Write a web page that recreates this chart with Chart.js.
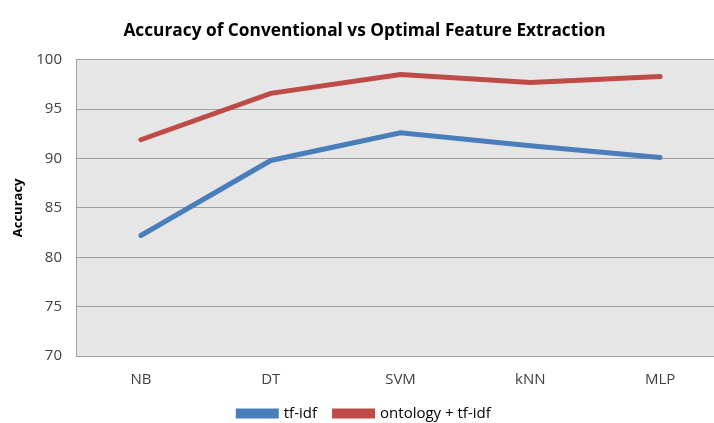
<!DOCTYPE html>
<html>
<head>
<meta charset="utf-8">
<script src="https://cdn.jsdelivr.net/npm/chart.js@4.4.0/dist/chart.umd.min.js"></script>
<style>
  html, body { margin: 0; padding: 0; background: #fff; overflow: hidden; }
  #wrap { width: 714px; height: 423px; overflow: hidden; }
</style>
</head>
<body>
<div id="wrap"><canvas id="chartCanvas" width="725" height="423"></canvas></div>
<script>
// Données du graphique
const categories = ['NB', 'DT', 'SVM', 'kNN', 'MLP'];
const tfIdf = [82.2, 89.8, 92.6, 91.3, 90.1];
const ontologyTfIdf = [91.9, 96.6, 98.5, 97.7, 98.3];
const yTicks = [70, 75, 80, 85, 90, 95, 100];

// Fond gris de la zone de tracé
const plotBackground = {
    id: 'plotBackground',
    beforeDraw(chart) {
        const { ctx, chartArea } = chart;
        ctx.save();
        ctx.fillStyle = '#e6e6e6';
        ctx.fillRect(chartArea.left, chartArea.top, chartArea.right - chartArea.left, chartArea.bottom - chartArea.top);
        ctx.restore();
    }
};

const font = "'Open Sans', 'Liberation Sans', sans-serif";

const ctx = document.getElementById('chartCanvas').getContext('2d');
new Chart(ctx, {
    type: 'line',
    data: {
        labels: categories,
        datasets: [{
            label: 'tf-idf',
            data: tfIdf,
            borderColor: '#4a7ebb',
            backgroundColor: '#4a7ebb',
            borderWidth: 5,
            pointRadius: 0,
            tension: 0,
            borderCapStyle: 'round'
        }, {
            label: 'ontology + tf-idf',
            data: ontologyTfIdf,
            borderColor: '#be4b48',
            backgroundColor: '#be4b48',
            borderWidth: 5,
            pointRadius: 0,
            tension: 0,
            borderCapStyle: 'round'
        }]
    },
    options: {
        responsive: false,
        animation: false,
        layout: { padding: { left: 4, right: 0, top: 21, bottom: -8 } },
        scales: {
            x: {
                offset: true,
                grid: { display: false, drawTicks: false },
                border: { display: true, color: '#a0a0a0' },
                ticks: { color: '#404040', font: { family: font, size: 15 }, padding: 15 }
            },
            y: {
                min: 70,
                max: 100,
                afterBuildTicks(axis) { axis.ticks = yTicks.map(v => ({ value: v })); },
                afterFit(axis) { axis.width = 72; },
                grid: { color: '#a0a0a0', drawTicks: false, lineWidth: 1 },
                border: { display: true, color: '#a0a0a0' },
                ticks: { color: '#404040', font: { family: font, size: 15 }, padding: 14 },
                title: {
                    display: true,
                    text: 'Accuracy',
                    color: '#000',
                    font: { family: font, size: 13, weight: 'bold' },
                    padding: { top: 6, bottom: 2 }
                }
            }
        },
        plugins: {
            title: {
                display: true,
                text: 'Accuracy of Conventional vs Optimal Feature Extraction',
                color: '#000',
                font: { family: font, size: 17.3, weight: 'bold' },
                padding: { top: 0, bottom: 18 }
            },
            legend: {
                display: true,
                position: 'bottom',
                labels: {
                    color: '#000',
                    font: { family: font, size: 15 },
                    boxWidth: 38,
                    boxHeight: 5,
                    padding: 2,
                    // espace entre les deux entrées sans agrandir la hauteur
                    generateLabels(chart) {
                        const items = Chart.defaults.plugins.legend.labels.generateLabels(chart);
                        if (items.length > 1) items[0].text += '\u00a0\u00a0\u00a0\u00a0';
                        return items;
                    }
                }
            },
            tooltip: { enabled: false }
        }
    },
    plugins: [plotBackground]
});
</script>
</body>
</html>
